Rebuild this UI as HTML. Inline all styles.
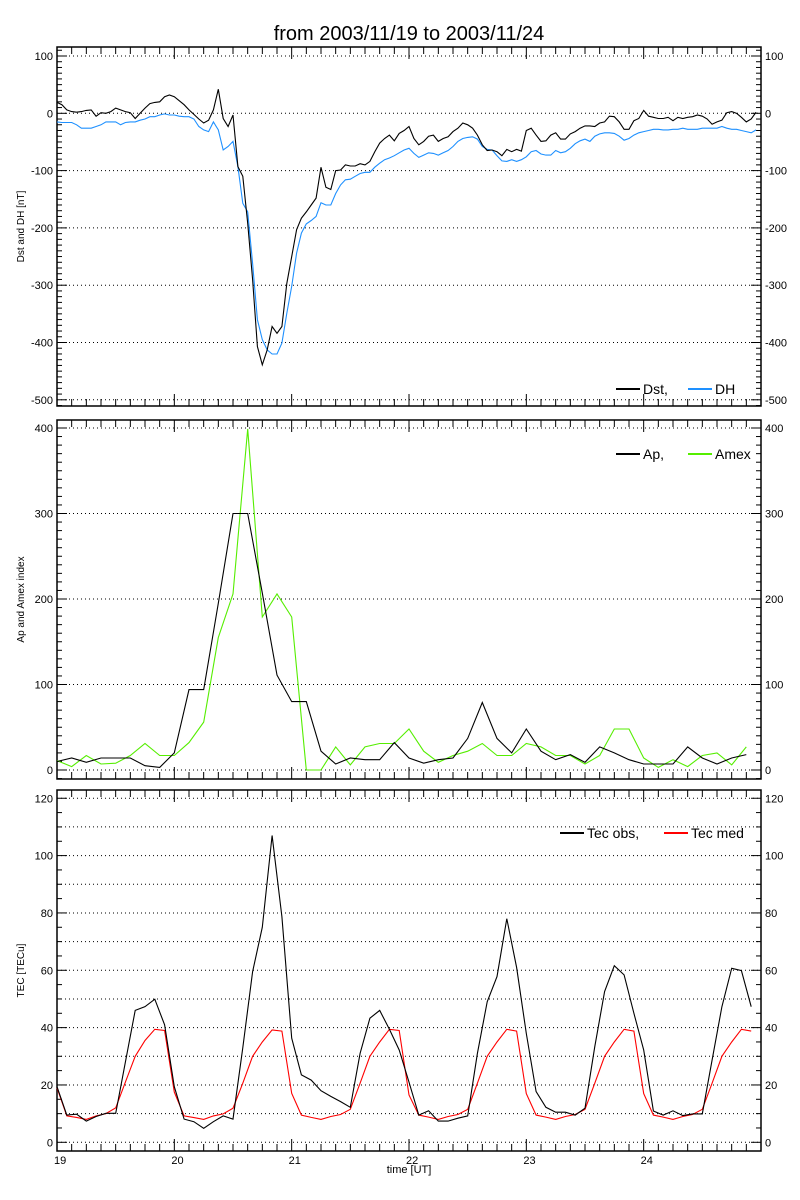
<!DOCTYPE html>
<html><head><meta charset="utf-8"><style>
html,body{margin:0;padding:0;background:#fff;}
svg{display:block;font-family:"Liberation Sans",sans-serif;}
</style></head><body>
<svg id="chart" width="800" height="1200" viewBox="0 0 800 1200" xmlns="http://www.w3.org/2000/svg">
<rect x="0" y="0" width="800" height="1200" fill="#fff"/>
<text x="409" y="40" font-size="20" text-anchor="middle" fill="#000">from 2003/11/19 to 2003/11/24</text>
</svg>
<script>
// Panel 1 hourly values (nT), 19.00 .. 24.958
const dstValues=[19,15,6,3,2,3,5,6,-5,1,0,3,9,6,3,1,-9,0,9,17,19,20,29,32,29,22,15,6,-2,-10,-17,-12,6,42,-9,-23,-3,-93,-110,-192,-290,-407,-439,-413,-372,-384,-372,-297,-250,-203,-183,-172,-160,-148,-94,-129,-133,-100,-99,-90,-92,-92,-88,-90,-84,-67,-52,-44,-38,-48,-35,-30,-23,-44,-55,-49,-40,-38,-49,-44,-41,-32,-26,-17,-20,-26,-38,-55,-65,-64,-67,-74,-63,-67,-63,-66,-30,-26,-38,-49,-48,-38,-34,-45,-45,-36,-32,-26,-22,-22,-23,-17,-15,-5,-6,-15,-28,-28,-13,-9,5,-5,-7,-9,-9,-7,-13,-7,-9,-7,-6,-3,-5,-10,-19,-15,-12,1,3,0,-7,-15,-10,2];
const dhValues=[-15,-16,-16,-16,-20,-26,-26,-26,-23,-20,-15,-15,-15,-20,-16,-15,-15,-12,-10,-6,-6,-3,-1,-3,-3,-5,-6,-6,-10,-23,-29,-32,-15,-29,-64,-58,-49,-93,-157,-172,-262,-360,-395,-413,-420,-420,-401,-349,-302,-244,-209,-193,-187,-180,-156,-160,-160,-140,-125,-116,-115,-110,-105,-103,-103,-94,-87,-81,-78,-74,-69,-64,-61,-70,-77,-73,-69,-70,-73,-69,-65,-58,-49,-44,-42,-41,-45,-58,-63,-64,-74,-83,-84,-81,-84,-81,-76,-67,-65,-71,-73,-73,-65,-69,-67,-61,-53,-48,-45,-49,-40,-36,-34,-34,-35,-40,-47,-44,-38,-34,-32,-30,-28,-28,-29,-29,-28,-28,-26,-28,-28,-28,-26,-26,-26,-26,-23,-26,-28,-28,-30,-32,-34,-29];
// Panel 2, 3-hourly
const apValues=[10,14,9,14,14,14,5,3,20,94,94,195,300,300,207,111,80,80,22,7,14,12,12,32,14,8,12,14,37,79,37,20,48,22,12,18,9,27,20,12,7,7,7,27,14,7,14,18];
const amexValues=[11,4,17,7,8,17,31,17,17,32,56,155,206,399,179,206,179,0,0,27,6,27,31,31,48,22,9,17,22,31,17,17,31,27,17,17,7,17,48,48,14,3,12,4,17,20,6,27];
// Panel 3, 2-hourly
const tecObs=[19.4,9.5,9.8,7.4,9,10.1,10.1,28,46,47.3,49.9,41,19.4,8.1,7.2,4.9,7.2,9.2,8.1,33,59.5,75,107,78.7,36.3,23.5,21.7,18,16,14.2,12.2,31,43.3,46,39.4,32.2,21,9.5,11,7.4,7.4,8.4,9.2,31,49,57.8,78,61,38,17.7,12.2,10.5,10.5,9.5,11.9,33.4,52.6,61.6,58.4,45,32.2,10.9,9.5,11,9.3,9.9,9.9,28.7,47.3,60.7,59.9,47.3];
const tecMed=[19,9.2,8.7,8,9.2,10,12,21,30,35.5,39.4,39,17.5,9.2,8.6,8,9.2,9.9,11.9,20.6,30,35,39.2,38.8,17.1,9.5,8.7,8,9,9.7,11.5,20.6,30,35,39.4,39,16.5,9.5,8.8,8,9,9.7,11.5,20.6,30,35,39.4,38.8,17,9.5,8.8,8,9,9.7,11.5,20.6,30,35,39.4,38.8,17,9.5,8.8,8,9,9.7,11.5,20.6,30,35,39.4,38.8];
const dayLabels=["19","20","21","22","23","24"];
const p1Ticks=[100,0,-100,-200,-300,-400,-500];
const p2Ticks=[0,100,200,300,400];
const p3Ticks=[0,20,40,60,80,100,120];

const NS="http://www.w3.org/2000/svg";
const svg=document.getElementById('chart');
const X0=57,X1=761;
function xs(day){return X0+(day-19)*(X1-X0)/6;}
function mk(tag,attrs,parent){const e=document.createElementNS(NS,tag);for(const k in attrs)e.setAttribute(k,attrs[k]);(parent||svg).appendChild(e);return e;}

const panels=[
 {top:47,bot:406,ys:v=>113.3-v*0.573,lo:-510,hi:115,minor:10,major:100,grid:100,ticks:p1Ticks,title:"Dst and DH [nT]",name:"dst-panel"},
 {top:420,bot:779,ys:v=>770-v*0.855,lo:-10,hi:410,minor:10,major:100,grid:100,ticks:p2Ticks,title:"Ap and Amex index",name:"ap-panel"},
 {top:790,bot:1151,ys:v=>1142.3-v*2.867,lo:-3,hi:123,minor:5,major:20,grid:10,ticks:p3Ticks,title:"TEC [TECu]",name:"tec-panel"}
];

panels.forEach((p,pi)=>{
 const g=mk('g',{});
 
 
 for(let v=Math.ceil(p.lo/p.grid)*p.grid;v<=p.hi;v+=p.grid){
  const y=p.ys(v);if(y<p.top+1||y>p.bot-1)continue;
  const l=mk('line',{x1:X0,x2:X1,y1:y,y2:y,stroke:'#000','stroke-width':1,'stroke-dasharray':'1,3'},g);
  
  
 }
 const fr=mk('rect',{x:X0,y:p.top,width:X1-X0,height:p.bot-p.top,fill:'none',stroke:'#000','stroke-width':1.5},g);
 
 
 for(let v=Math.ceil(p.lo/p.minor)*p.minor;v<=p.hi;v+=p.minor){
  const y=p.ys(v);if(y<p.top||y>p.bot)continue;
  const len=(Math.round(v)%p.major===0)?10:5;
  mk('line',{x1:X0,x2:X0+len,y1:y,y2:y,stroke:'#000'},g);
  mk('line',{x1:X1-len,x2:X1,y1:y,y2:y,stroke:'#000'},g);
 }
 p.ticks.forEach(v=>{
  const y=p.ys(v)+4;
  const t1=mk('text',{x:X0-4,y:y,'font-size':11,'text-anchor':'end'},g);t1.textContent=v;
  
  
  const t2=mk('text',{x:X1+4,y:y,'font-size':11},g);t2.textContent=v;
  
  
 });
 for(let h=0;h<=48;h++){
  const x=xs(19+h/8);const major=h%8===0;const len=major?12:7;
  mk('line',{x1:x,x2:x,y1:p.bot,y2:p.bot-len,stroke:'#000'},g);
  mk('line',{x1:x,x2:x,y1:p.top,y2:p.top+len,stroke:'#000'},g);
 }
 const yt=mk('text',{x:0,y:0,'font-size':10,'text-anchor':'middle',transform:`translate(24,${(p.top+p.bot)/2}) rotate(-90)`},g);
 yt.textContent=p.title;
 
 
});

function series(vals,stepH,p,color,name){
 const pts=vals.map((v,i)=>xs(19+i*stepH/24).toFixed(1)+','+p.ys(v).toFixed(1)).join(' ');
 const pl=mk('polyline',{points:pts,fill:'none',stroke:color,'stroke-width':1.1});
 
 
}
series(dhValues,1,panels[0],'#1e90ff','dh-line');
series(dstValues,1,panels[0],'#000','dst-line');
series(amexValues,3,panels[1],'#55ee00','amex-line');
series(apValues,3,panels[1],'#000','ap-line');
series(tecMed,2,panels[2],'#ff0000','tec-med-line');
series(tecObs,2,panels[2],'#000','tec-obs-line');

dayLabels.forEach((d,i)=>{
 const t=mk('text',{x:xs(19+i)-3,y:1164,'font-size':11});t.textContent=d;
 
 
});
const xt=mk('text',{x:409,y:1173,'font-size':11,'text-anchor':'middle'});xt.textContent='time [UT]';



function legend(items,y){
 items.forEach(it=>{
  const l=mk('line',{x1:it.x,x2:it.x+24,y1:y,y2:y,stroke:it.c,'stroke-width':2});
  
  
  const t=mk('text',{x:it.x+27,y:y+5,'font-size':14});t.textContent=it.t;
  
  
 });
}
legend([{x:616,c:'#000',t:'Dst,'},{x:688,c:'#1e90ff',t:'DH'}],389);
legend([{x:616,c:'#000',t:'Ap,'},{x:688,c:'#55ee00',t:'Amex'}],454);
legend([{x:560,c:'#000',t:'Tec obs,'},{x:664,c:'#ff0000',t:'Tec med'}],833);
</script>
</body></html>
